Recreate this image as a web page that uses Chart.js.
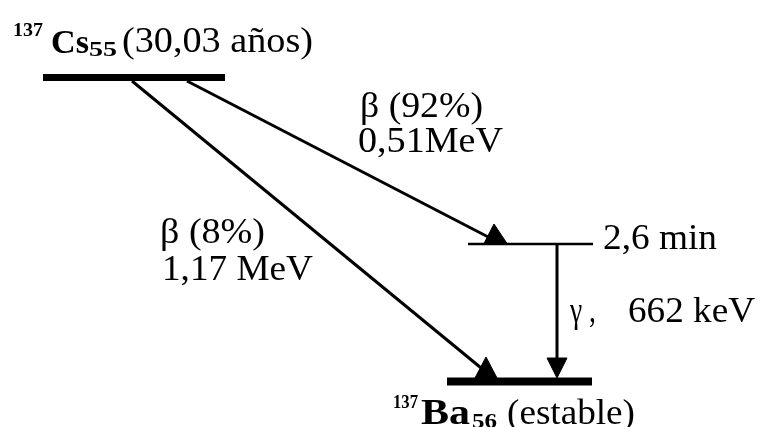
<!DOCTYPE html>
<html>
<head>
<meta charset="utf-8">
<script src="https://cdn.jsdelivr.net/npm/chart.js@4.4.1/dist/chart.umd.min.js"></script>
<style>
  html, body { margin: 0; padding: 0; background: #fff; }
  #wrap { width: 760px; height: 427px; }
</style>
</head>
<body>
<div id="wrap"><canvas id="scheme" width="760" height="427"></canvas></div>
<script>
// Decay scheme 137Cs -> 137Ba, drawn in diagram units (0..760 x 0..427)
const levelNames = ["137Cs", "137mBa", "137Ba"];
const levelY = [77.5, 244, 381.5];
const levelFrom = [43, 468, 447];
const levelTo = [225, 593, 592];

const transNames = ["beta 92%", "beta 8%", "gamma"];
const transStart = [[187, 81], [132, 81], [557, 244]];
const transEnd = [[494, 240], [486, 372], [557, 362]];

// arrow heads (triangles)
const headPoints = [
    [[484, 243.5], [507, 243.5], [494, 224]],
    [[475, 378], [497, 378], [486, 357]],
    [[547, 358], [567, 358], [557, 378]],
];

// text pieces: text, x, baseline, bold, size, fitted width
const labels = [
    ["137", 13, 36, true, 19, 30],
    ["Cs", 51, 53, true, 34, 38],
    ["55", 89, 56, true, 20, 28],
    ["(30,03 años)", 122, 52, false, 35, 191],
    ["β (92%)", 360, 117, false, 35, 123],
    ["0,51MeV", 358, 152, false, 35, 145],
    ["β (8%)", 160, 243, false, 35, 105],
    ["1,17 MeV", 162, 280, false, 35, 151],
    ["2,6 min", 603, 249, false, 35, 114],
    ["γ ,", 570, 322, false, 35, 26],
    ["662 keV", 628, 322, false, 35, 127],
    ["137", 393, 408, true, 19, 25],
    ["Ba", 421, 424, true, 35, 49],
    ["56", 472, 428, true, 20, 25],
    ["(estable)", 507, 424, false, 35, 128],
];

const levelWidths = [7, 2.5, 8];
const FONT = '"Liberation Serif", Tinos, "Times New Roman", serif';

const datasets = [];
levelNames.forEach((name, i) => {
    datasets.push({
        label: name,
        data: [
            { x: levelFrom[i], y: levelY[i] },
            { x: levelTo[i], y: levelY[i] },
        ],
        borderColor: "#000",
        borderWidth: levelWidths[i],
        pointRadius: 0,
        fill: false,
    });
});
transNames.forEach((name, i) => {
    datasets.push({
        label: name,
        data: [
            { x: transStart[i][0], y: transStart[i][1] },
            { x: transEnd[i][0], y: transEnd[i][1] },
        ],
        borderColor: "#000",
        borderWidth: 3,
        pointRadius: 0,
        fill: false,
    });
});
headPoints.forEach((tri, i) => {
    const pts = tri.concat([tri[0]]).map((p) => ({ x: p[0], y: p[1] }));
    datasets.push({
        label: transNames[i] + " head",
        data: pts,
        borderColor: "#000",
        backgroundColor: "#000",
        borderWidth: 1,
        pointRadius: 0,
        fill: "shape",
    });
});

const textPlugin = {
    id: "schemeText",
    afterDatasetsDraw(chart) {
        const { ctx, scales } = chart;
        ctx.save();
        ctx.fillStyle = "#000";
        ctx.textBaseline = "alphabetic";
        ctx.textAlign = "left";
        labels.forEach(([text, x, y, bold, size, width]) => {
            ctx.font = `${bold ? "bold " : ""}${size}px ${FONT}`;
            const w = ctx.measureText(text).width;
            ctx.save();
            ctx.translate(scales.x.getPixelForValue(x), scales.y.getPixelForValue(y));
            ctx.scale(width / w, 1);
            ctx.fillText(text, 0, 0);
            ctx.restore();
        });
        ctx.restore();
    },
};

new Chart(document.getElementById("scheme"), {
    type: "line",
    data: { datasets },
    options: {
        responsive: false,
        animation: false,
        layout: { padding: 0 },
        scales: {
            x: { type: "linear", min: 0, max: 760, display: false },
            y: { type: "linear", min: 0, max: 427, reverse: true, display: false },
        },
        plugins: {
            legend: { display: false },
            tooltip: { enabled: false },
        },
        elements: { line: { tension: 0, borderCapStyle: "butt" } },
    },
    plugins: [textPlugin],
});
</script>
</body>
</html>
